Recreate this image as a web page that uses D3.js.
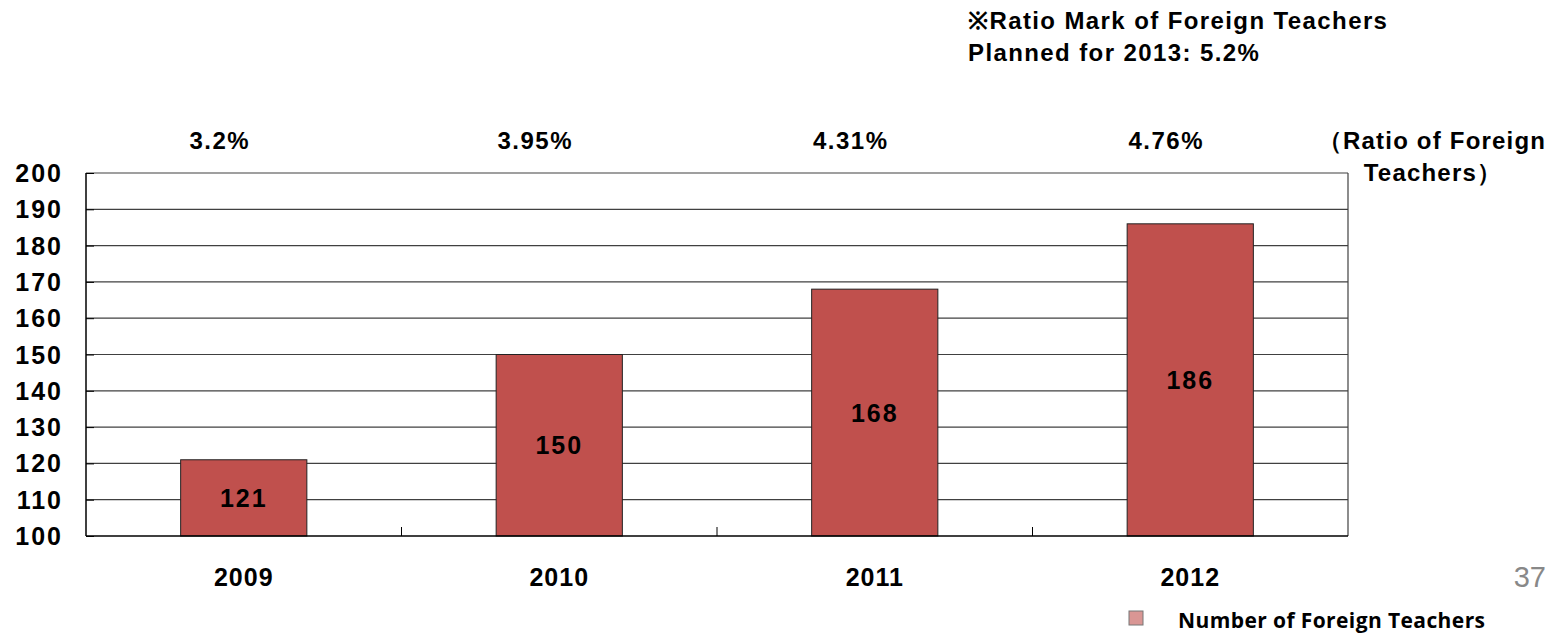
<html>
<head>
<style>
  body { margin: 0; background: white; }
  text { font-family: "Liberation Sans", Arial, sans-serif; font-weight: bold; fill: #000; }
  .axis path { display: none; }
  .axis line { stroke: #000; }
  .grid line { stroke: #404040; stroke-width: 1.2px; }
</style>
</head>
<body>
<svg width="1564" height="634"></svg>
<script src="https://d3js.org/d3.v7.min.js"></script>
<script>

var years = ["2009", "2010", "2011", "2012"];
var teachers = [121, 150, 168, 186];
var ratios = ["3.2%", "3.95%", "4.31%", "4.76%"];
var yTicks = [100, 110, 120, 130, 140, 150, 160, 170, 180, 190, 200];

var svg = d3.select("svg");
var plotLeft = 86, plotRight = 1348, plotTop = 173, plotBottom = 536;

var x = d3.scaleBand().domain(years).range([plotLeft, plotRight]).paddingInner(0.6).paddingOuter(0.3);
var xCat = d3.scaleBand().domain(years).range([plotLeft, plotRight]);
var y = d3.scaleLinear().domain([100, 200]).range([plotBottom, plotTop]);

// grid lines
svg.append("g").attr("class", "grid")
  .selectAll("line").data(yTicks.slice(1))
  .enter().append("line")
    .attr("x1", plotLeft).attr("x2", plotRight)
    .attr("y1", function(d) { return y(d); })
    .attr("y2", function(d) { return y(d); });

// plot frame right side
svg.append("line").attr("x1", plotRight).attr("x2", plotRight).attr("y1", plotTop).attr("y2", plotBottom)
  .style("stroke", "#404040").style("stroke-width", 1.2);

// bars
svg.selectAll(".bar").data(teachers)
  .enter().append("rect")
    .attr("class", "bar")
    .attr("x", function(d, i) { return x(years[i]); })
    .attr("y", function(d) { return y(d); })
    .attr("width", x.bandwidth())
    .attr("height", function(d) { return plotBottom - y(d); })
    .style("fill", "#c0504d")
    .style("stroke", "#222")
    .style("stroke-width", 1);

// bar value labels
svg.selectAll(".val").data(teachers)
  .enter().append("text")
    .attr("x", function(d, i) { return x(years[i]) + x.bandwidth() / 2; })
    .attr("y", function(d) { return (y(d) + plotBottom) / 2 + 9; })
    .attr("text-anchor", "middle")
    .style("font-size", "25px")
    .style("letter-spacing", "2px")
    .text(function(d) { return d; });

// y axis
svg.append("g").attr("class", "axis")
  .attr("transform", "translate(" + plotLeft + ",0)")
  .call(d3.axisRight(y).tickValues(yTicks).tickSize(8).tickFormat(""));
svg.append("line").attr("x1", plotLeft).attr("x2", plotLeft).attr("y1", plotTop).attr("y2", plotBottom)
  .style("stroke", "#000").style("stroke-width", 1.5);

svg.selectAll(".ylab").data(yTicks)
  .enter().append("text")
    .attr("x", 63).attr("y", function(d) { return y(d) + 9; })
    .attr("text-anchor", "end")
    .style("font-size", "25px")
    .style("letter-spacing", "2px")
    .text(function(d) { return d; });

// x axis baseline + category ticks
svg.append("line").attr("x1", plotLeft).attr("x2", plotRight).attr("y1", plotBottom).attr("y2", plotBottom)
  .style("stroke", "#000").style("stroke-width", 1.5);
svg.selectAll(".xtick").data(years.slice(1))
  .enter().append("line")
    .attr("x1", function(d) { return xCat(d); })
    .attr("x2", function(d) { return xCat(d); })
    .attr("y1", plotBottom).attr("y2", plotBottom - 9)
    .style("stroke", "#000");

svg.selectAll(".xlab").data(years)
  .enter().append("text")
    .attr("x", function(d) { return xCat(d) + xCat.bandwidth() / 2; })
    .attr("y", 586)
    .attr("text-anchor", "middle")
    .style("font-size", "25px")
    .style("letter-spacing", "1px")
    .text(function(d) { return d; });

// ratio labels above each category
svg.selectAll(".ratio").data(ratios)
  .enter().append("text")
    .attr("x", function(d, i) { return xCat(years[i]) + xCat.bandwidth() / 2 - 24; })
    .attr("y", 149)
    .attr("text-anchor", "middle")
    .style("font-size", "24px")
    .style("letter-spacing", "1.5px")
    .text(function(d) { return d; });

svg.append("text").attr("x", 1432).attr("y", 149).attr("text-anchor", "middle")
  .style("font-size", "24px").style("letter-spacing", "1.2px").text("（Ratio of Foreign");
svg.append("text").attr("x", 1433).attr("y", 181).attr("text-anchor", "middle")
  .style("font-size", "24px").style("letter-spacing", "1.2px").text("Teachers）");

// note at top
svg.append("text").attr("x", 968).attr("y", 29).style("font-size", "24px").style("letter-spacing", "1.4px")
  .text("※Ratio Mark of Foreign Teachers");
svg.append("text").attr("x", 968).attr("y", 61).style("font-size", "24px").style("letter-spacing", "1.4px")
  .text("Planned for 2013: 5.2%");

// page number
svg.append("text").attr("x", 1546).attr("y", 587).attr("text-anchor", "end")
  .style("font-size", "29px").style("font-weight", "normal").style("fill", "#888")
  .text("37");

// legend
svg.append("rect").attr("x", 1129).attr("y", 611).attr("width", 14).attr("height", 14)
  .style("fill", "#d99694").style("stroke", "#777").style("stroke-width", 1);
svg.append("text").attr("x", 1178).attr("y", 628)
  .style("font-family", "'Open Sans', Lato, sans-serif")
  .style("font-size", "21px")
  .style("letter-spacing", "0.4px")
  .text("Number of Foreign Teachers");

</script>
</body>
</html>
